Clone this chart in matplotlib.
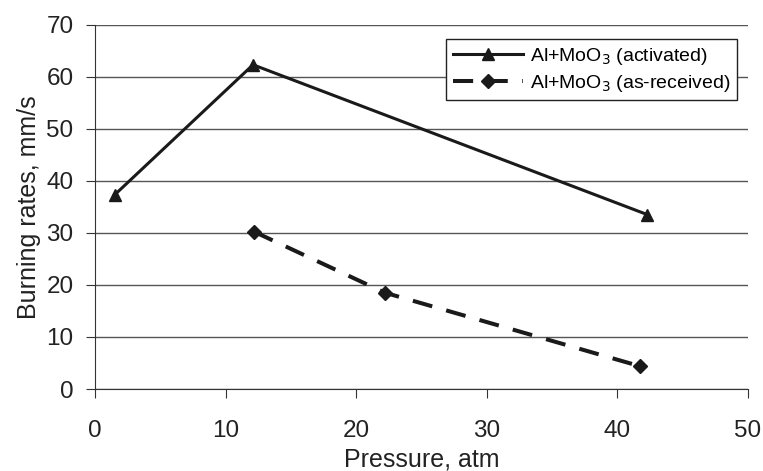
import matplotlib
matplotlib.use('Agg')
import matplotlib.pyplot as plt

plt.rcParams['font.family'] = ['Liberation Sans', 'DejaVu Sans']

# data
p_activated = [1.5, 12.1, 42.3]
r_activated = [37.3, 62.3, 33.5]
p_received = [12.2, 22.2, 41.7]
r_received = [30.2, 18.5, 4.4]

fig = plt.figure(figsize=(7.63, 4.71), dpi=100)
# axes box in pixels: left 95, right 748, top 24.7, bottom 389
ax = fig.add_axes([95 / 763, 1 - 389 / 471, 653 / 763, 364.3 / 471])

ax.plot(p_activated, r_activated, color='#1a1a1a', lw=2.2, marker='^', ms=9,
        label='Al+MoO$_3$ (activated)')
ax.plot(p_received, r_received, color='#1a1a1a', lw=2.9, ls=(0, (5, 3.6)), marker='D', ms=7,
        label='Al+MoO$_3$ (as-received)')

ax.set_xlim(0, 50)
ax.set_ylim(0, 70)
ax.set_xticks(range(0, 51, 10))
ax.set_yticks(range(0, 71, 10))
ax.yaxis.grid(True, color='#555555', lw=1)
ax.set_axisbelow(True)
ax.spines['top'].set_visible(False)
ax.spines['right'].set_visible(False)
ax.spines['left'].set_color('#333333')
ax.spines['bottom'].set_color('#333333')
ax.tick_params(labelsize=17.5, length=6.5, color='#333333', labelcolor='#222222')
ax.tick_params(axis='x', pad=16)
ax.tick_params(axis='y', pad=9)

ax.set_xlabel('Pressure, atm', fontsize=18, color='#222222', labelpad=4)
ax.set_ylabel('Burning rates, mm/s', fontsize=18, color='#222222', labelpad=4)

leg = ax.legend(loc='upper right', bbox_to_anchor=(0.983, 0.961), borderaxespad=0,
                fontsize=14, frameon=True, fancybox=False, edgecolor='#222222',
                framealpha=1, handlelength=3.6, handletextpad=0.35,
                borderpad=0.35, labelspacing=0.3)
leg.get_frame().set_linewidth(1)

fig.savefig('out.png', dpi=100)
